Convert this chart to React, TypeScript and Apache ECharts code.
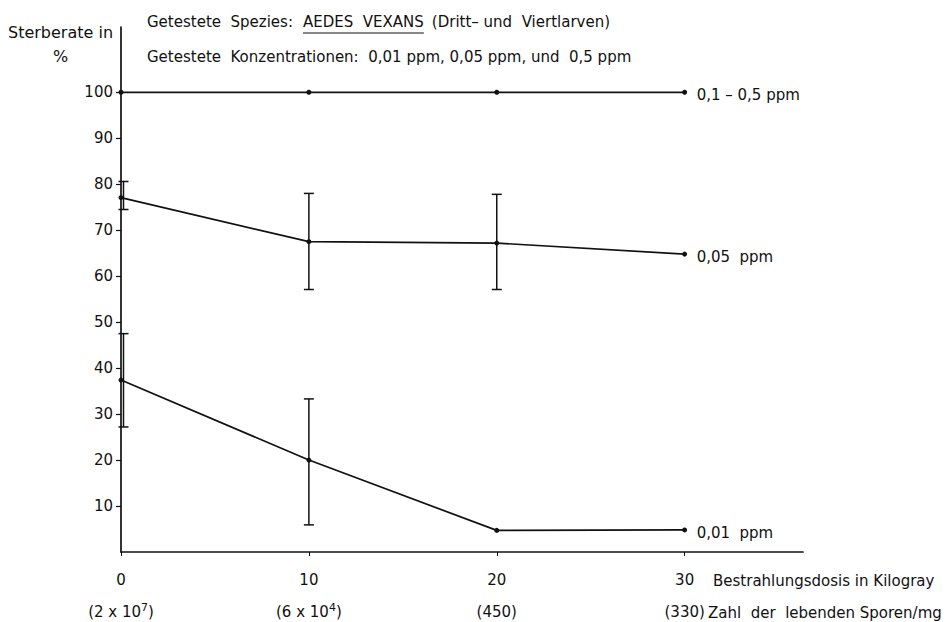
import React, { useEffect, useRef } from 'react';
import * as echarts from 'echarts';

// Irradiation dose (kGy) and number of living spores per mg
const doses = [0, 10, 20, 30];
const sporeBase = ['2 x 10', '6 x 10', '450', '330'];
const sporeExp = ['7', '4', '', ''];
const yTickValues = [10, 20, 30, 40, 50, 60, 70, 80, 90, 100];

// Mortality (%) per concentration
const seriesNames = ['0,1 – 0,5 ppm', '0,05  ppm', '0,01  ppm'];
const highConc = [100, 100, 100, 100];
const midConc = [77.1, 67.5, 67.2, 64.8];
const midLow = [74.5, 57.1, 57.1, null];
const midHigh = [80.6, 78.0, 77.8, null];
const lowConc = [37.4, 20.0, 4.7, 4.8];
const lowLow = [27.2, 5.9, null, null];
const lowHigh = [47.5, 33.3, null, null];

const FONT = 'DejaVu Sans';
const FS = 15;
const INK = '#111111';

function errData(low: (number | null)[], high: (number | null)[]) {
  return doses
    .map((d, i) => [d, low[i], high[i]])
    .filter((r) => r[1] !== null && r[2] !== null);
}

function measure(text: string, size: number) {
  const ctx = document.createElement('canvas').getContext('2d');
  if (!ctx) return text.length * size * 0.6;
  ctx.font = `${size}px "${FONT}"`;
  return ctx.measureText(text).width;
}

export default function App() {
  const ref = useRef<HTMLDivElement>(null);
  useEffect(() => {
    document.body.style.margin = '0';
    const chart = echarts.init(ref.current!, null, { renderer: 'svg' });
    const lineSeries = (name: string, data: number[]) => ({
      type: 'line',
      name,
      data: doses.map((d, i) => [d, data[i]]),
      symbol: 'circle',
      symbolSize: 5,
      showSymbol: true,
      lineStyle: { color: INK, width: 1.7 },
      itemStyle: { color: INK },
      endLabel: {
        show: true,
        formatter: name,
        distance: 12,
        color: INK,
        fontFamily: FONT,
        fontSize: FS,
        offset: [0, 3],
      },
      z: 3,
    });
    const errSeries = (low: (number | null)[], high: (number | null)[]) => ({
      type: 'custom',
      data: errData(low, high),
      renderItem: (params: any, api: any) => {
        const x = api.value(0);
        const lo = api.coord([x, api.value(1)]);
        const hi = api.coord([x, api.value(2)]);
        const dx = x === 0 ? 2.5 : 0; // drawn just right of the y axis, as in the original
        const hw = 5;
        const style = { stroke: INK, lineWidth: 1.5 };
        return {
          type: 'group',
          children: [
            { type: 'line', shape: { x1: lo[0] + dx, y1: lo[1], x2: hi[0] + dx, y2: hi[1] }, style },
            { type: 'line', shape: { x1: lo[0] + dx - hw, y1: lo[1], x2: lo[0] + dx + hw, y2: lo[1] }, style },
            { type: 'line', shape: { x1: hi[0] + dx - hw, y1: hi[1], x2: hi[0] + dx + hw, y2: hi[1] }, style },
          ],
        };
      },
      z: 2,
    });

    const hdr1a = 'Getestete  Spezies:';
    const hdr1b = 'AEDES  VEXANS';
    const hdr1c = '(Dritt– und  Viertlarven)';
    const hdr2 = 'Getestete  Konzentrationen:  0,01 ppm, 0,05 ppm, und  0,5 ppm';
    const aedesX = 303;
    const aedesW = measure(hdr1b, FS);
    const txt = (text: string, left: number, top: number, size = FS) => ({
      type: 'text',
      left,
      top,
      style: { text, fontFamily: FONT, fontSize: size, fill: INK },
    });

    const option: any = {
      animation: false,
      backgroundColor: '#ffffff',
      grid: { left: 121, right: 146, top: 27, bottom: 64, containLabel: false },
      xAxis: {
        type: 'value',
        min: 0,
        max: 36.3,
        interval: 10,
        splitLine: { show: false },
        axisLine: { show: true, lineStyle: { color: INK, width: 1.7 } },
        axisTick: { show: true, length: 4, lineStyle: { color: INK, width: 1 }, customValues: doses },
        axisLabel: {
          customValues: doses,
          margin: 12,
          color: INK,
          fontFamily: FONT,
          fontSize: FS,
          formatter: (v: number) => {
            const i = doses.indexOf(v);
            if (i < 0) return '';
            const exp = sporeExp[i] ? `{s|${sporeExp[i]}}` : '';
            return `{a|${v}}\n{b|(${sporeBase[i]}}${exp}{b|)}`;
          },
          rich: {
            a: { fontFamily: FONT, fontSize: FS, color: INK, lineHeight: 32 },
            b: { fontFamily: FONT, fontSize: FS, color: INK, lineHeight: 32 },
            s: { fontFamily: FONT, fontSize: 11, color: INK, lineHeight: 32, padding: [0, 0, 9, 0] },
          },
        },
      },
      yAxis: {
        type: 'value',
        min: 0,
        max: 114.2,
        interval: 10,
        splitLine: { show: false },
        axisLine: { show: true, lineStyle: { color: INK, width: 1.7 } },
        axisTick: { show: true, length: 5, lineStyle: { color: INK, width: 1.2 }, customValues: yTickValues },
        axisLabel: {
          customValues: yTickValues,
          margin: 8,
          color: INK,
          fontFamily: FONT,
          fontSize: FS,
          formatter: (v: number) => (yTickValues.indexOf(v) >= 0 ? String(v) : ''),
        },
      },
      graphic: [
        txt('Sterberate in', 8, 24, 16),
        txt('%', 53, 48, 16),
        txt(hdr1a, 147, 14),
        txt(hdr1b, aedesX, 14),
        { type: 'line', shape: { x1: aedesX, y1: 33, x2: aedesX + aedesW, y2: 33 }, style: { stroke: INK, lineWidth: 1 } },
        txt(hdr1c, aedesX + aedesW + 8, 14),
        txt(hdr2, 147, 49),
        txt('Bestrahlungsdosis in Kilogray', 713, 573),
        txt('Zahl  der  lebenden Sporen/mg', 708, 605),
      ],
      series: [
        lineSeries(seriesNames[0], highConc),
        lineSeries(seriesNames[1], midConc),
        lineSeries(seriesNames[2], lowConc),
        errSeries(midLow, midHigh),
        errSeries(lowLow, lowHigh),
      ],
    };
    chart.setOption(option);
    return () => chart.dispose();
  }, []);
  return <div ref={ref} style={{ width: 949, height: 622, background: '#fff' }} />;
}
